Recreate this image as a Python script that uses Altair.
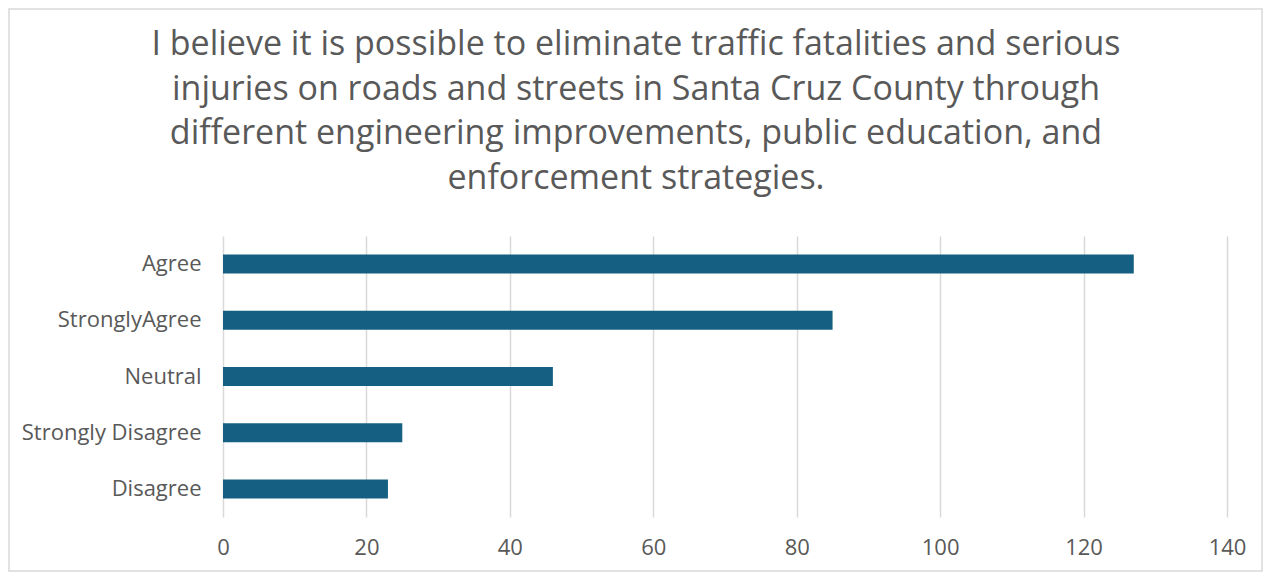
import altair as alt
import pandas as pd

categories = ["Agree", "StronglyAgree", "Neutral", "Strongly Disagree", "Disagree"]
counts = [127, 85, 46, 25, 23]
title_lines = [
    "I believe it is possible to eliminate traffic fatalities and serious",
    "injuries on roads and streets in Santa Cruz County through",
    "different engineering improvements, public education, and",
    "enforcement strategies.",
]
x_ticks = [0, 20, 40, 60, 80, 100, 120, 140]

df = pd.DataFrame({"category": categories, "count": counts})

W, H = 1004, 281
PL, PT, PR, PB = 215, 228, 36, 55
FONT = "Open Sans"
GREY = "#595959"

frame = alt.Chart(pd.DataFrame({"a": [0]})).mark_rect(
    fill=None, stroke="#d9d9d9", strokeWidth=1.5
).encode(
    x=alt.value(-PL + 1), x2=alt.value(W + PR - 1),
    y=alt.value(-PT + 1), y2=alt.value(H + PB - 1),
)

title = alt.Chart(pd.DataFrame({"a": [0]})).mark_text(
    font=FONT, fontSize=34, lineHeight=44.5, color=GREY, align="center",
    baseline="alphabetic",
).encode(
    x=alt.value(413), y=alt.value(-181), text=alt.value(title_lines),
)

bars = alt.Chart(df).mark_bar(color="#156082", size=19).encode(
    x=alt.X("count:Q", scale=alt.Scale(domain=[0, 140], nice=False),
            axis=alt.Axis(values=x_ticks, title=None, grid=True, gridColor="#d9d9d9",
                          gridWidth=1.5, domain=False, ticks=False, labelFontSize=22,
                          labelColor=GREY, labelFont=FONT, labelPadding=20,
                          labelFlush=False)),
    y=alt.Y("category:N", sort=categories,
            axis=alt.Axis(title=None, domain=False, ticks=False, grid=False,
                          labelFontSize=22, labelColor=GREY, labelFont=FONT,
                          labelPadding=22)),
)

chart = alt.layer(frame, title, bars).properties(
    width=W, height=H,
    autosize=alt.AutoSizeParams(type="none"),
    padding={"left": PL, "top": PT, "right": PR, "bottom": PB},
).configure_view(stroke=None)

chart.save("out.html", embed_options={"renderer": "svg", "actions": False})
